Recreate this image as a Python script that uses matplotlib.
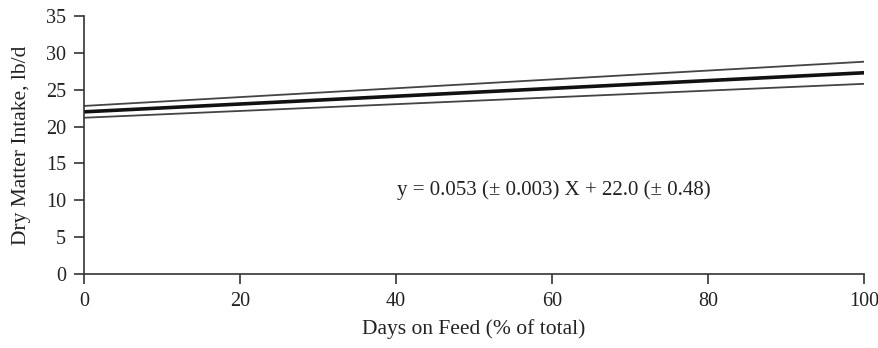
import matplotlib
matplotlib.use("Agg")
import matplotlib.pyplot as plt

# Regression of dry matter intake on days on feed, with confidence bounds
days = [0, 100]
dmi_fit = [22.0, 27.3]
dmi_upper = [22.8, 28.8]
dmi_lower = [21.2, 25.8]

x_ticks = [0, 20, 40, 60, 80, 100]
y_ticks = [0, 5, 10, 15, 20, 25, 30, 35]

equation = "y = 0.053 (± 0.003) X + 22.0 (± 0.48)"

plt.rcParams["font.family"] = ["Liberation Serif", "DejaVu Serif"]

fig = plt.figure(figsize=(8.79, 3.48), dpi=100)
ax = fig.add_axes([0.0956, 0.2126, 0.8874, 0.7414])

ax.plot(days, dmi_upper, color="#444444", linewidth=1.3)
ax.plot(days, dmi_lower, color="#444444", linewidth=1.3)
ax.plot(days, dmi_fit, color="#111111", linewidth=2.6)

ax.text(40.1, 11.4, equation, fontsize=15, ha="left", va="center",
        color="#222222")

ax.set_xlim(0, 100)
ax.set_ylim(0, 35)
ax.set_xticks(x_ticks)
ax.set_yticks(y_ticks)
ax.spines["top"].set_visible(False)
ax.spines["right"].set_visible(False)
for side in ("left", "bottom"):
    ax.spines[side].set_color("#333333")
    ax.spines[side].set_linewidth(1.2)
ax.tick_params(direction="out", length=7, width=1.2, color="#333333",
               labelsize=14.5, labelcolor="#222222", pad=6)

ax.set_xlabel("Days on Feed (% of total)", fontsize=15.5, color="#222222",
              labelpad=6)
ax.set_ylabel("Dry Matter Intake, lb/d", fontsize=15.5, color="#222222",
              labelpad=11)

fig.savefig("out.png", dpi=100)
